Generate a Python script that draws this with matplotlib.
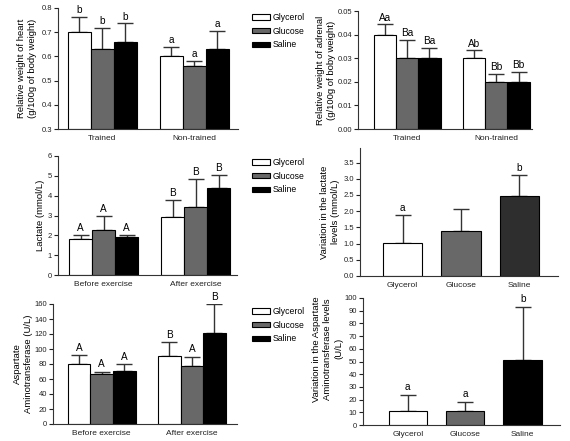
import matplotlib
matplotlib.use("Agg")
import matplotlib.pyplot as plt
import numpy as np
from matplotlib.patches import Patch

plt.rcParams['font.family'] = ['Liberation Sans', 'DejaVu Sans']

W, H = 570, 441
DPI = 100

groups_train = ["Trained", "Non-trained"]
groups_ex = ["Before exercise", "After exercise"]
treatments = ["Glycerol", "Glucose", "Saline"]

heart_mean = [[0.70, 0.63, 0.66], [0.60, 0.56, 0.63]]
heart_err = [[0.062, 0.088, 0.076], [0.038, 0.020, 0.075]]
heart_lbl = [["b", "b", "b"], ["a", "a", "a"]]

adrenal_mean = [[0.040, 0.030, 0.030], [0.030, 0.020, 0.020]]
adrenal_err = [[0.0043, 0.0078, 0.0042], [0.0033, 0.0034, 0.0040]]
adrenal_lbl = [["Aa", "Ba", "Ba"], ["Ab", "Bb", "Bb"]]

lact_mean = [[1.82, 2.28, 1.92], [2.90, 3.45, 4.38]]
lact_err = [[0.20, 0.68, 0.12], [0.87, 1.37, 0.65]]
lact_lbl = [["A", "A", "A"], ["B", "B", "B"]]

dlact_mean = [1.02, 1.38, 2.46]
dlact_err = [0.85, 0.69, 0.66]
dlact_lbl = ["a", "", "b"]

ast_mean = [[80, 67, 71], [91, 77, 122]]
ast_err = [[12, 3, 9], [18, 13, 38]]
ast_lbl = [["A", "A", "A"], ["B", "A", "B"]]

dast_mean = [11, 11, 51]
dast_err = [13, 7.5, 42]
dast_lbl = ["a", "a", "b"]

colors3 = ["white", "#686868", "black"]
colors_var_lact = ["white", "#686868", "#2e2e2e"]

fig = plt.figure(figsize=(W / DPI, H / DPI), dpi=DPI)

LETTER_FS = 7.2


def add_ax(x0, x1, ytop, ybot):
    return fig.add_axes([x0 / W, 1 - ybot / H, (x1 - x0) / W, (ybot - ytop) / H])


def style(ax):
    for s in ["top", "right"]:
        ax.spines[s].set_visible(False)
    for s in ["left", "bottom"]:
        ax.spines[s].set_linewidth(0.8)
        ax.spines[s].set_color("#333333")
    ax.tick_params(axis="y", labelsize=5.5, length=3, width=0.8, pad=1.2, colors="#222222")
    ax.tick_params(axis="x", labelsize=6, length=0, pad=4, colors="#222222")


def ylab(ax, text, xpos, ypos=0.5):
    ax.set_ylabel(text, fontsize=6.8, linespacing=1.3)
    ax.yaxis.set_label_coords(xpos, ypos)


def grouped(ax, means, errs, lbls, groups, ylim, yticks, fmt, letter_off, xlim):
    for g in range(2):
        for t in range(3):
            x = g * 4 + t
            m = means[g][t]
            e = errs[g][t]
            ax.bar(x, m - ylim[0], bottom=ylim[0], width=1.0, color=colors3[t],
                   edgecolor="black", linewidth=0.8, zorder=2)
            ax.errorbar(x, m, yerr=[[0], [e]], fmt="none", ecolor="#333333",
                        elinewidth=1.0, capsize=5.5, capthick=1.0, zorder=1)
            ax.text(x, m + e + letter_off, lbls[g][t], ha="center", va="bottom",
                    fontsize=LETTER_FS)
    ax.set_xlim(*xlim)
    ax.set_ylim(*ylim)
    ax.set_yticks(yticks)
    ax.set_yticklabels([fmt.format(v) for v in yticks])
    ax.set_xticks([1, 5])
    ax.set_xticklabels(groups)
    style(ax)


def single(ax, means, errs, lbls, colors, ylim, yticks, fmt, letter_off, xlim):
    for t in range(3):
        m = means[t]
        e = errs[t]
        ax.bar(t, m, width=0.67, color=colors[t], edgecolor="black", linewidth=0.8, zorder=2)
        ax.errorbar(t, m, yerr=[[0], [e]], fmt="none", ecolor="#333333",
                    elinewidth=1.0, capsize=6, capthick=1.0, zorder=1)
        if lbls[t]:
            ax.text(t, m + e + letter_off, lbls[t], ha="center", va="bottom",
                    fontsize=LETTER_FS)
    ax.set_xlim(*xlim)
    ax.set_ylim(*ylim)
    ax.set_yticks(yticks)
    ax.set_yticklabels([fmt.format(v) for v in yticks])
    ax.set_xticks(range(3))
    ax.set_xticklabels(treatments)
    style(ax)


def legend(ytop_px):
    handles = [Patch(facecolor=c, edgecolor="black", linewidth=0.8) for c in colors3]
    fig.legend(handles, treatments, loc="upper left", bbox_to_anchor=(252 / W, 1 - ytop_px / H),
               frameon=False, fontsize=6.2, handlelength=2.1, handleheight=0.6,
               handletextpad=0.25, labelspacing=0.55, borderaxespad=0, borderpad=0)


# Panel 1: heart
ax1 = add_ax(58, 238, 8, 129)
grouped(ax1, heart_mean, heart_err, heart_lbl, groups_train, (0.3, 0.8),
        [0.3, 0.4, 0.5, 0.6, 0.7, 0.8], "{:.1f}", 0.008, (-0.93, 6.9))
ylab(ax1, "Relative weight of heart\n(g/100g of body weight)", -0.115)
legend(13)

# Panel 2: adrenal
ax2 = add_ax(358, 532, 11, 129)
grouped(ax2, adrenal_mean, adrenal_err, adrenal_lbl, groups_train, (0.0, 0.05),
        [0.0, 0.01, 0.02, 0.03, 0.04, 0.05], "{:.2f}", 0.0008, (-1.2, 6.6))
ylab(ax2, "Relative weight of adrenal\n(g/100g of boby weight)", -0.125)

# Panel 3: lactate
ax3 = add_ax(58, 237, 156, 275)
grouped(ax3, lact_mean, lact_err, lact_lbl, groups_ex, (0, 6),
        [0, 1, 2, 3, 4, 5, 6], "{:d}", 0.1, (-0.98, 6.8))
ylab(ax3, "Lactate (mmol/L)", -0.075)
legend(158)

# Panel 4: variation lactate
ax4 = add_ax(360, 558, 148, 276)
single(ax4, dlact_mean, dlact_err, dlact_lbl, colors_var_lact, (0, 3.95),
       [0.0, 0.5, 1.0, 1.5, 2.0, 2.5, 3.0, 3.5], "{:.1f}", 0.06, (-0.73, 2.66))
ylab(ax4, "Variation in the lactate\nlevels (mmol/L)", -0.10)

# Panel 5: AST
ax5 = add_ax(53, 237, 304, 424)
grouped(ax5, ast_mean, ast_err, ast_lbl, groups_ex, (0, 160),
        list(range(0, 161, 20)), "{:d}", 3, (-1.16, 7.0))
ylab(ax5, "Aspartate\nAminotransferase (U/L)", -0.11)
legend(307)

# Panel 6: variation AST
ax6 = add_ax(363, 560, 298, 425)
single(ax6, dast_mean, dast_err, dast_lbl, colors3, (0, 100),
       list(range(0, 101, 10)), "{:d}", 2, (-0.78, 2.65))
ylab(ax6, "Variation in the Aspartate\nAminotransferase levels\n(U/L)", -0.10, 0.6)

fig.savefig("out.png", dpi=DPI)
